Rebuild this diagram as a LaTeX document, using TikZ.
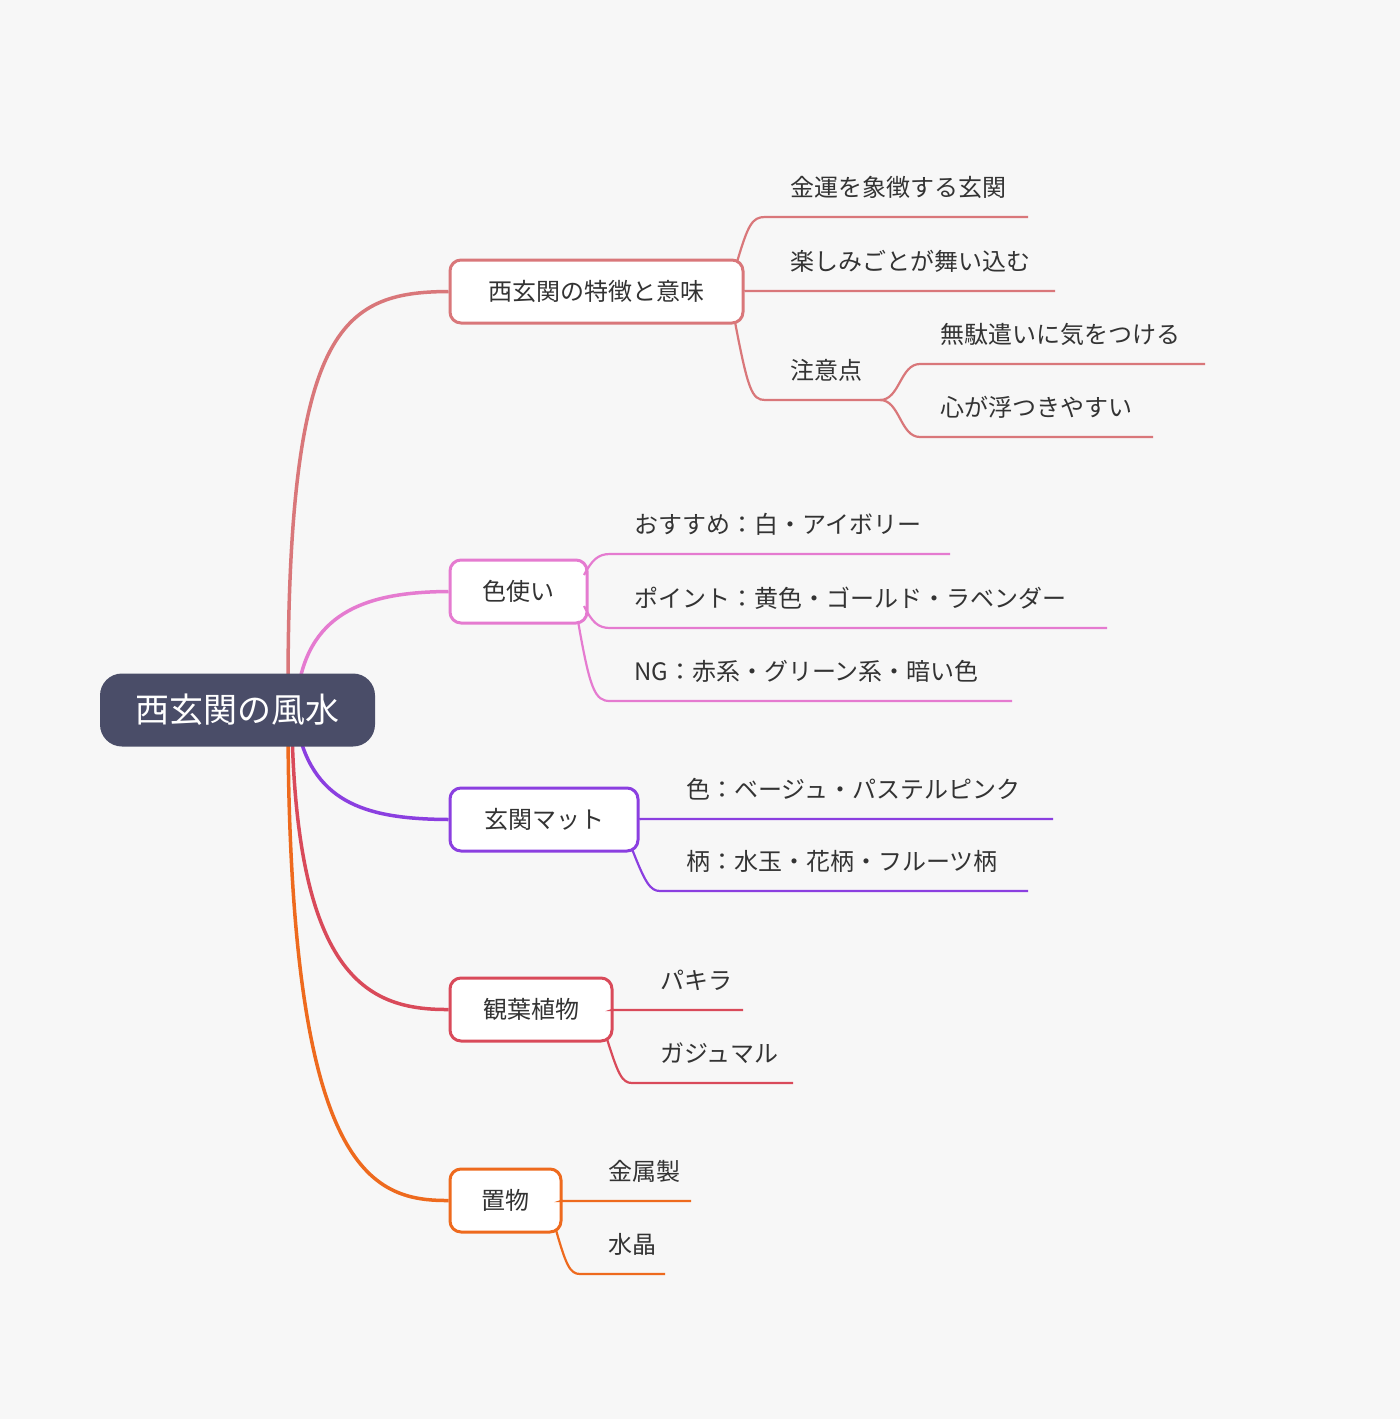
\documentclass[tikz,border=0pt]{standalone}
\usepackage{fontspec}
\setmainfont{Noto Sans CJK JP}
\definecolor{bg}{HTML}{F7F7F7}
\definecolor{rootc}{HTML}{4A4D68}
\definecolor{cA}{HTML}{D9777A}
\definecolor{cB}{HTML}{E57BD0}
\definecolor{cC}{HTML}{8B3FE0}
\definecolor{cD}{HTML}{D94A5A}
\definecolor{cE}{HTML}{EE6A1E}
\definecolor{txt}{HTML}{333333}
\tikzset{
  root/.style={fill=rootc,text=white,rounded corners=22pt,minimum width=275pt,minimum height=73pt,font=\fontsize{34}{40}\selectfont},
  topic/.style={draw=#1,fill=white,line width=3pt,rounded corners=11pt,minimum height=63pt,inner xsep=0pt,font=\fontsize{24}{28}\selectfont,text=txt},
  leaf/.style={anchor=base west,inner sep=0pt,font=\fontsize{24}{28}\selectfont,text=txt},
  branch/.style={draw=#1,line width=3.5pt},
  twig/.style={draw=#1,line width=2.2pt},
}
\begin{document}
\begin{tikzpicture}[x=1pt,y=-1pt]
  \fill[bg] (0,0) rectangle (1400,1419);
  \useasboundingbox (0,0) rectangle (1400,1419);

  % main branches
  \node[topic=cA,minimum width=293pt] (b1) at (596.5,291.5) {西玄関の特徴と意味};
  \node[topic=cB,minimum width=137pt] (b2) at (518.5,591.5) {色使い};
  \node[topic=cC,minimum width=188pt] (b3) at (544,819.5) {玄関マット};
  \node[topic=cD,minimum width=162pt] (b4) at (531,1009.5) {観葉植物};
  \node[topic=cE,minimum width=111pt] (b5) at (505.5,1200.5) {置物};

  \draw[branch=cA] (288,690) .. controls (288,330) and (340,292) .. (b1.west);
  \draw[branch=cB] (298,690) .. controls (310,610) and (370,592) .. (b2.west);
  \draw[branch=cC] (298,730) .. controls (315,805) and (370,819) .. (b3.west);
  \draw[branch=cD] (292,730) .. controls (298,980) and (370,1010) .. (b4.west);
  \draw[branch=cE] (288,730) .. controls (290,1170) and (370,1201) .. (b5.west);

  \node[root] (r) at (237.5,710) {西玄関の風水};

  % branch 1
  \coordinate (a1s) at (765,217); \coordinate (a1e) at (1028,217);
  \coordinate (a2s) at (745,291); \coordinate (a2e) at (1055,291);
  \coordinate (a3s) at (765,400); \coordinate (a3e) at (880,400);
  \coordinate (a31s) at (920,364); \coordinate (a31e) at (1205,364);
  \coordinate (a32s) at (920,437); \coordinate (a32e) at (1153,437);
  \node[leaf] (a1) at (790,196) {金運を象徴する玄関};
  \node[leaf] (a2) at (790,270) {楽しみごとが舞い込む};
  \node[leaf] (a3) at (790,379) {注意点};
  \node[leaf] (a31) at (940,343) {無駄遣いに気をつける};
  \node[leaf] (a32) at (940,416) {心が浮つきやすい};
  \draw[twig=cA] (737,262) .. controls (748,225) and (752,217) .. (a1s) -- (a1e);
  \draw[twig=cA] (b1.east) -- (a2s) -- (a2e);
  \draw[twig=cA] (735,322) .. controls (748,390) and (752,400) .. (a3s) -- (a3e);
  \draw[twig=cA] (a3e) .. controls (900,400) and (900,364) .. (a31s) -- (a31e);
  \draw[twig=cA] (a3e) .. controls (900,400) and (900,437) .. (a32s) -- (a32e);

  % branch 2
  \coordinate (p1s) at (610,554); \coordinate (p1e) at (950,554);
  \coordinate (p2s) at (610,628); \coordinate (p2e) at (1107,628);
  \coordinate (p3s) at (610,701); \coordinate (p3e) at (1012,701);
  \node[leaf] (p1) at (634,533) {おすすめ：白・アイボリー};
  \node[leaf] (p2) at (634,607) {ポイント：黄色・ゴールド・ラベンダー};
  \node[leaf] (p3) at (634,680) {NG：赤系・グリーン系・暗い色};
  \draw[twig=cB] (584,575) .. controls (592,560) and (598,554) .. (p1s) -- (p1e);
  \draw[twig=cB] (584,606) .. controls (592,622) and (598,628) .. (p2s) -- (p2e);
  \draw[twig=cB] (578,621) .. controls (590,690) and (595,701) .. (p3s) -- (p3e);

  % branch 3
  \coordinate (m1s) at (640,819); \coordinate (m1e) at (1053,819);
  \coordinate (m2s) at (660,891); \coordinate (m2e) at (1028,891);
  \node[leaf] (m1) at (686,798) {色：ベージュ・パステルピンク};
  \node[leaf] (m2) at (686,870) {柄：水玉・花柄・フルーツ柄};
  \draw[twig=cC] (b3.east) -- (m1s) -- (m1e);
  \draw[twig=cC] (632,849) .. controls (645,882) and (650,891) .. (m2s) -- (m2e);

  % branch 4
  \coordinate (k1s) at (612,1010); \coordinate (k1e) at (743,1010);
  \coordinate (k2s) at (632,1083); \coordinate (k2e) at (793,1083);
  \node[leaf] (k1) at (660,989) {パキラ};
  \node[leaf] (k2) at (660,1062) {ガジュマル};
  \draw[twig=cD] (b4.east) -- (k1s) -- (k1e);
  \draw[twig=cD] (607,1039) .. controls (618,1074) and (622,1083) .. (k2s) -- (k2e);

  % branch 5
  \coordinate (o1s) at (561,1201); \coordinate (o1e) at (691,1201);
  \coordinate (o2s) at (580,1274); \coordinate (o2e) at (665,1274);
  \node[leaf] (o1) at (608,1180) {金属製};
  \node[leaf] (o2) at (608,1253) {水晶};
  \draw[twig=cE] (b5.east) -- (o1s) -- (o1e);
  \draw[twig=cE] (556,1230) .. controls (566,1265) and (570,1274) .. (o2s) -- (o2e);
\end{tikzpicture}
\end{document}
